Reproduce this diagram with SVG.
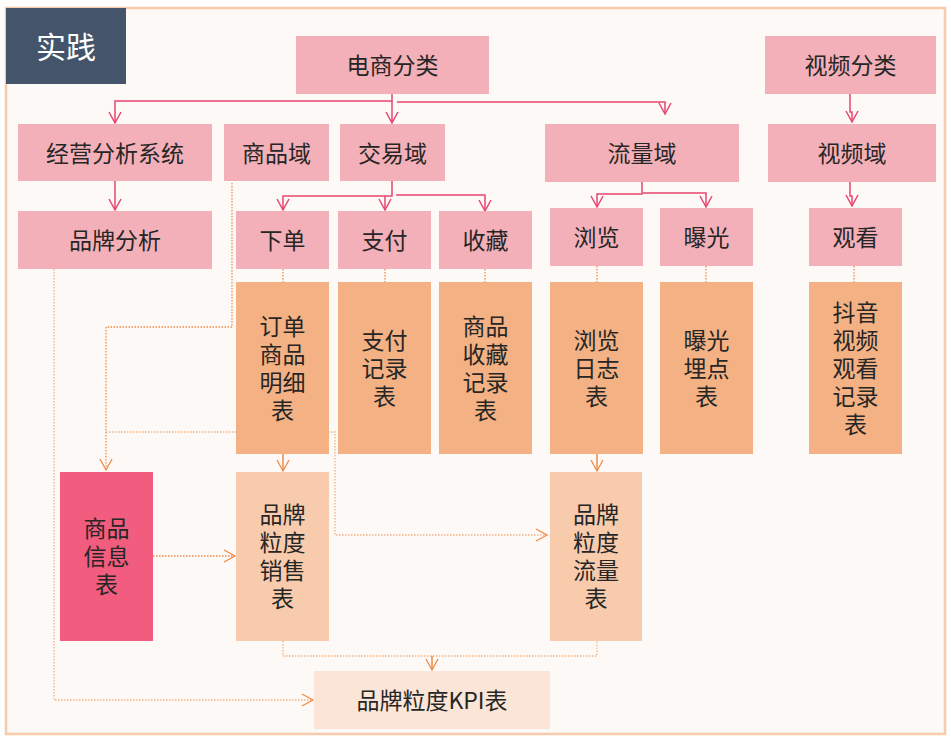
<svg xmlns="http://www.w3.org/2000/svg" width="951" height="741" viewBox="0 0 951 741">
<style>
text{font-family:"Noto Sans CJK SC","Noto Sans",sans-serif;font-size:23px;fill:#262626;text-anchor:middle;dominant-baseline:central}
.pk{fill:#F4B0B8}
.or{fill:#F4B183}
.lo{fill:#F8CBAD}
.pc{fill:none;stroke:#E9466F;stroke-width:1.5}
.od{fill:none;stroke:#EE8A48;stroke-width:1.3;stroke-dasharray:1.5 1.5}
.ol{fill:none;stroke:#F4B183;stroke-width:1.3;stroke-dasharray:1.5 1.5}
.os{fill:none;stroke:#EE8A48;stroke-width:1.5}
</style>
<defs>
<marker id="ap" markerUnits="userSpaceOnUse" markerWidth="14" markerHeight="14" refX="11" refY="6" orient="auto" overflow="visible">
<path d="M0,0 L11,6 L0,12" fill="none" stroke="#E9466F" stroke-width="1.5"/>
</marker>
<marker id="ao" markerUnits="userSpaceOnUse" markerWidth="14" markerHeight="14" refX="11" refY="6" orient="auto" overflow="visible">
<path d="M0,0 L11,6 L0,12" fill="none" stroke="#EE8A48" stroke-width="1.3"/>
</marker>
</defs>
<rect x="6" y="8" width="939" height="726" fill="#FDF9F6" stroke="#F8CBAD" stroke-width="2.5"/>
<g id="title"><rect x="6" y="8" width="120" height="76" fill="#44546A"/><text x="66" y="45" style="font-size:30px;fill:#ffffff">实践</text></g>

<g id="connectors">
<path class="pc" d="M392 94 V101 H115 V123" marker-end="url(#ap)"/>
<path class="pc" d="M392 101 V123" marker-end="url(#ap)"/>
<path class="pc" d="M397 102 H665 V114" marker-end="url(#ap)"/>
<path class="pc" d="M115 181 V210" marker-end="url(#ap)"/>
<path class="pc" d="M392 181 V196 H283 V210" marker-end="url(#ap)"/>
<path class="pc" d="M385 196 V210" marker-end="url(#ap)"/>
<path class="pc" d="M396 195 H485 V211" marker-end="url(#ap)"/>
<path class="pc" d="M642 182 V194 H597 V207" marker-end="url(#ap)"/>
<path class="pc" d="M643 193 H706 V207" marker-end="url(#ap)"/>
<path class="pc" d="M850 94 V112 H852 V122" marker-end="url(#ap)"/>
<path class="pc" d="M850 182 V196 H852 V206" marker-end="url(#ap)"/>
<path class="od" d="M283 269 V298" marker-end="url(#ao)"/>
<path class="od" d="M385 269 V298" marker-end="url(#ao)"/>
<path class="od" d="M485 269 V298" marker-end="url(#ao)"/>
<path class="od" d="M597 266 V296" marker-end="url(#ao)"/>
<path class="od" d="M706 266 V296" marker-end="url(#ao)"/>
<path class="od" d="M854 266 V296" marker-end="url(#ao)"/>
<path class="od" d="M232 183 V327 H106 V470" marker-end="url(#ao)"/>
<path class="ol" d="M106 432 H335 V535 H547" marker-end="url(#ao)"/>
<path class="os" d="M283 454 V471" marker-end="url(#ao)"/>
<path class="os" d="M597 454 V471" marker-end="url(#ao)"/>
<path class="od" d="M153 556 H235" marker-end="url(#ao)"/>
<path class="ol" d="M283 641 V656 H597 V641"/>
<path class="os" d="M432 656 V670" marker-end="url(#ao)"/>
<path class="ol" d="M54 269 V700 H313" marker-end="url(#ao)"/>
</g>

<g id="dianshang"><rect class="pk" x="296" y="36" width="193" height="58"/><text x="392.5" y="64">电商分类</text></g>
<g id="shipinfenlei"><rect class="pk" x="765" y="36" width="171" height="58"/><text x="850.5" y="64">视频分类</text></g>

<g id="jingying"><rect class="pk" x="18" y="124" width="194" height="57"/><text x="115" y="151.5">经营分析系统</text></g>
<g id="shangpinyu"><rect class="pk" x="224" y="124" width="105" height="57"/><text x="276.5" y="151.5">商品域</text></g>
<g id="jiaoyiyu"><rect class="pk" x="340" y="124" width="105" height="57"/><text x="392.5" y="151.5">交易域</text></g>
<g id="liuliangyu"><rect class="pk" x="545" y="124" width="194" height="58"/><text x="642" y="152">流量域</text></g>
<g id="shipinyu"><rect class="pk" x="768" y="124" width="168" height="58"/><text x="852" y="152">视频域</text></g>

<g id="pinpai"><rect class="pk" x="18" y="211" width="194" height="58"/><text x="115" y="239">品牌分析</text></g>
<g id="xiadan"><rect class="pk" x="236" y="211" width="93" height="58"/><text x="282.5" y="239">下单</text></g>
<g id="zhifu"><rect class="pk" x="338" y="211" width="93" height="58"/><text x="384.5" y="239">支付</text></g>
<g id="shoucang"><rect class="pk" x="439" y="211" width="93" height="58"/><text x="485.5" y="239">收藏</text></g>
<g id="liulan"><rect class="pk" x="550" y="208" width="93" height="58"/><text x="596.5" y="236">浏览</text></g>
<g id="baoguang"><rect class="pk" x="660" y="208" width="93" height="58"/><text x="706.5" y="236">曝光</text></g>
<g id="guankan"><rect class="pk" x="809" y="208" width="93" height="58"/><text x="855.5" y="236">观看</text></g>

<g id="dingdan"><rect class="or" x="236" y="282" width="93" height="172"/><text x="282.5" y="325">订单<tspan x="282.5" dy="28">商品</tspan><tspan x="282.5" dy="28">明细</tspan><tspan x="282.5" dy="28">表</tspan></text></g>
<g id="zhifujilu"><rect class="or" x="338" y="282" width="93" height="172"/><text x="384.5" y="339">支付<tspan x="384.5" dy="28">记录</tspan><tspan x="384.5" dy="28">表</tspan></text></g>
<g id="shoucangjilu"><rect class="or" x="439" y="282" width="93" height="172"/><text x="485.5" y="325">商品<tspan x="485.5" dy="28">收藏</tspan><tspan x="485.5" dy="28">记录</tspan><tspan x="485.5" dy="28">表</tspan></text></g>
<g id="liulanrizhi"><rect class="or" x="550" y="282" width="93" height="172"/><text x="596.5" y="339">浏览<tspan x="596.5" dy="28">日志</tspan><tspan x="596.5" dy="28">表</tspan></text></g>
<g id="baoguangmaidian"><rect class="or" x="660" y="282" width="93" height="172"/><text x="706.5" y="339">曝光<tspan x="706.5" dy="28">埋点</tspan><tspan x="706.5" dy="28">表</tspan></text></g>
<g id="douyin"><rect class="or" x="809" y="282" width="93" height="172"/><text x="855.5" y="311">抖音<tspan x="855.5" dy="28">视频</tspan><tspan x="855.5" dy="28">观看</tspan><tspan x="855.5" dy="28">记录</tspan><tspan x="855.5" dy="28">表</tspan></text></g>

<g id="shangpinxinxi"><rect x="60" y="472" width="93" height="169" fill="#F15C7F"/><text x="106.5" y="527">商品<tspan x="106.5" dy="28">信息</tspan><tspan x="106.5" dy="28">表</tspan></text></g>
<g id="xiaoshou"><rect class="lo" x="236" y="472" width="93" height="169"/><text x="282.5" y="513">品牌<tspan x="282.5" dy="28">粒度</tspan><tspan x="282.5" dy="28">销售</tspan><tspan x="282.5" dy="28">表</tspan></text></g>
<g id="liuliangbiao"><rect class="lo" x="550" y="472" width="92" height="169"/><text x="596" y="513">品牌<tspan x="596" dy="28">粒度</tspan><tspan x="596" dy="28">流量</tspan><tspan x="596" dy="28">表</tspan></text></g>

<g id="kpi"><rect x="314" y="671" width="236" height="58" fill="#FBE5D6"/><text x="432" y="699">品牌粒度KPI表</text></g>
</svg>
